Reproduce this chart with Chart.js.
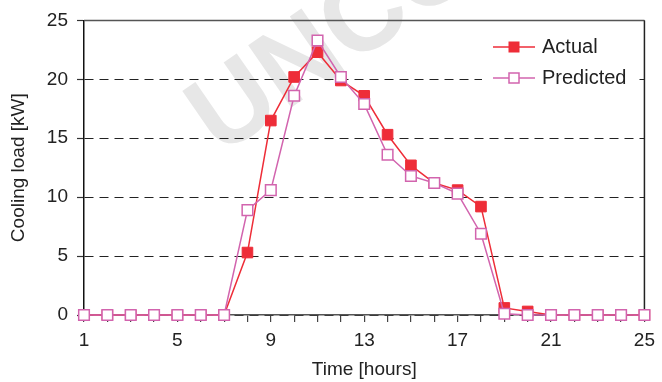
<!DOCTYPE html>
<html>
<head>
<meta charset="utf-8">
<script src="https://cdn.jsdelivr.net/npm/chart.js@4/dist/chart.umd.min.js"></script>
<style>
  html, body { margin: 0; padding: 0; background: #fff; }
  #wrap { width: 662px; height: 382px; }
</style>
</head>
<body>
<div id="wrap"><canvas id="c" width="662" height="382"></canvas></div>
<script>
const hours = [1,2,3,4,5,6,7,8,9,10,11,12,13,14,15,16,17,18,19,20,21,22,23,24,25];
const actual = [0,0,0,0,0,0,0,5.3,16.5,20.2,22.3,19.9,18.6,15.3,12.7,11.2,10.6,9.2,0.6,0.3,0,0,0,0,0];
const predicted = [0,0,0,0,0,0,0,8.9,10.6,18.6,23.3,20.2,17.9,13.6,11.8,11.2,10.3,6.9,0.1,0,0,0,0,0,0];
const xLabelTicks = [1,5,9,13,17,21,25];
const yTicks = [0,5,10,15,20,25];
const seriesNames = ['Actual','Predicted'];

const RED = '#ee2d38';
const PINK = '#d264ae';
const FONT = "'Liberation Sans', Arial, sans-serif";

const watermark = {
  id: 'watermark',
  beforeDraw(chart) {
    const ctx = chart.ctx;
    ctx.save();
    ctx.translate(220, 157);
    ctx.rotate(-34.7 * Math.PI / 180);
    ctx.font = "bold 110px " + FONT;
    ctx.fillStyle = '#e7e7e7';
    ctx.textBaseline = 'alphabetic';
    ctx.fillText('UNCORRECTED PROOF', 0, 0);
    ctx.restore();
  }
};

const frame = {
  id: 'frame',
  beforeDatasetsDraw(chart) {
    const {ctx, chartArea: a} = chart;
    ctx.save();
    ctx.lineWidth = 1.5;
    ctx.strokeStyle = '#555';
    ctx.beginPath();
    ctx.moveTo(a.left, a.top); ctx.lineTo(a.right, a.top);
    ctx.stroke();
    ctx.strokeStyle = '#222';
    ctx.beginPath();
    ctx.moveTo(a.right, a.top); ctx.lineTo(a.right, a.bottom);
    ctx.stroke();
    ctx.restore();
  }
};

const legendBox = {
  id: 'legendBox',
  afterDraw(chart) {
    const ctx = chart.ctx;
    ctx.save();
    ctx.fillStyle = '#fff';
    ctx.fillRect(482, 30, 154, 64);
    const rows = [47, 78];
    chart.data.datasets.forEach((ds, i) => {
      const y = rows[i];
      ctx.strokeStyle = ds.borderColor;
      ctx.lineWidth = 1.5;
      ctx.beginPath(); ctx.moveTo(493, y); ctx.lineTo(535, y); ctx.stroke();
      ctx.fillStyle = ds.pointBackgroundColor;
      ctx.strokeStyle = ds.pointBorderColor;
      ctx.lineWidth = ds.pointBorderWidth;
      const s = 10;
      ctx.fillRect(514 - s/2, y - s/2, s, s);
      ctx.strokeRect(514 - s/2, y - s/2, s, s);
      ctx.fillStyle = '#222';
      ctx.font = "20px " + FONT;
      ctx.textBaseline = 'middle';
      ctx.textAlign = 'left';
      ctx.fillText(ds.label, 542, y);
    });
    ctx.restore();
  }
};

new Chart(document.getElementById('c'), {
  type: 'line',
  data: {
    datasets: [
      {
        label: seriesNames[0],
        data: hours.map((h, i) => ({x: h, y: actual[i]})),
        borderColor: RED, backgroundColor: RED,
        pointBackgroundColor: RED, pointBorderColor: RED, pointBorderWidth: 1,
        pointStyle: 'rect', pointRadius: 7.5, borderWidth: 1.5,
        tension: 0, clip: false, order: 1
      },
      {
        label: seriesNames[1],
        data: hours.map((h, i) => ({x: h, y: predicted[i]})),
        borderColor: PINK, backgroundColor: '#fff',
        pointBackgroundColor: '#fff', pointBorderColor: PINK, pointBorderWidth: 1.5,
        pointStyle: 'rect', pointRadius: 7.5, borderWidth: 1.5,
        tension: 0, clip: false, order: 0
      }
    ]
  },
  options: {
    responsive: false,
    animation: false,
    devicePixelRatio: 1,
    layout: { padding: { top: 19, right: 13, left: 0, bottom: 0 } },
    plugins: { legend: { display: false }, tooltip: { enabled: false } },
    scales: {
      x: {
        type: 'linear', min: 1, max: 25,
        afterBuildTicks(scale) { scale.ticks = hours.map(v => ({value: v})); },
        afterFit(scale) { scale.height = 67; },
        ticks: {
          autoSkip: false, maxRotation: 0, padding: 7,
          color: '#222', font: { family: FONT, size: 19 },
          callback: (v) => xLabelTicks.includes(v) ? String(v) : ''
        },
        grid: { drawOnChartArea: false, drawTicks: true, tickLength: 7, color: '#444', lineWidth: 1.2 },
        border: { display: true, color: '#555', width: 1.5 },
        title: { display: true, text: 'Time [hours]', color: '#222', font: { family: FONT, size: 19 }, padding: { top: 0, bottom: 1 } }
      },
      y: {
        min: 0, max: 25,
        afterBuildTicks(scale) { scale.ticks = yTicks.map(v => ({value: v})); },
        afterFit(scale) { scale.width = 84; },
        ticks: { padding: 9, color: '#222', font: { family: FONT, size: 19 } },
        grid: { color: '#222', lineWidth: 1, tickBorderDash: [], tickLength: 7, tickColor: '#333', tickWidth: 1.2 },
        border: { display: true, color: '#111', width: 1.5, dash: [9, 6] },
        title: { display: true, text: 'Cooling load [kW]', color: '#222', font: { family: FONT, size: 19 }, padding: { top: 7, bottom: 0 } }
      }
    }
  },
  plugins: [watermark, frame, legendBox]
});
</script>
</body>
</html>
